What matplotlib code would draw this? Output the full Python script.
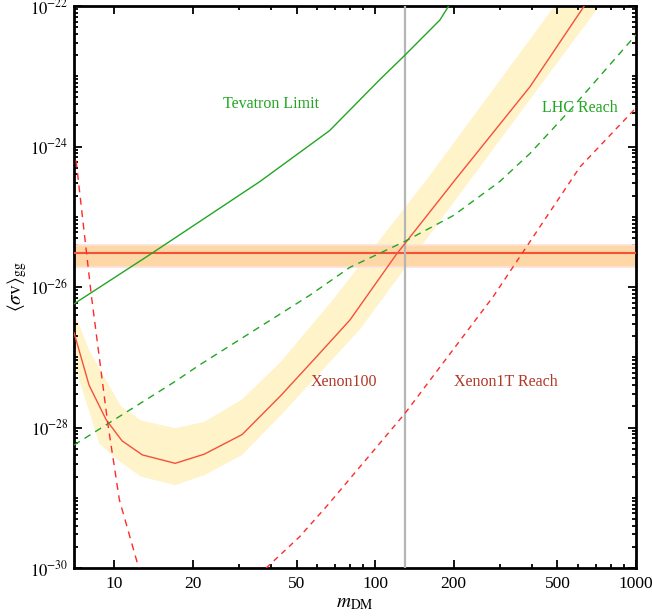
import numpy as np
import matplotlib
matplotlib.use("Agg")
import matplotlib.pyplot as plt
from matplotlib.ticker import FixedLocator, NullFormatter, FixedFormatter

# ---- values (mass in GeV, log10 <sigma v>) ----
# Xenon100 central line
xe100_m = [7, 8.0, 9.3, 10.7, 12.8, 17.1, 22.1, 30.9, 43.6, 60, 80, 120, 202, 392, 660]
xe100_ls = [-26.65, -27.40, -27.89, -28.19, -28.39, -28.51, -28.38, -28.10, -27.54,
            -26.98, -26.47, -25.545, -24.48, -23.15, -21.9]

# Xenon100 uncertainty band, upper and lower edges
band_hi_m = [7, 8.0, 10.6, 12.66, 17.1, 22.1, 30.9, 43.6, 68.9, 157, 510]
band_hi_ls = [-26.35, -26.90, -27.70, -27.90, -28.01, -27.92, -27.60, -27.06, -26.18, -24.48, -21.9]
band_lo_m = [7, 8.76, 10.6, 12.66, 17.1, 22.1, 30.9, 43.6, 87.1, 231, 758]
band_lo_ls = [-27.09, -28.23, -28.50, -28.70, -28.82, -28.68, -28.39, -27.82, -26.61, -24.48, -21.9]

# Tevatron limit
tev_m = [7, 13.6, 36.1, 66.8, 104, 130, 177, 195]
tev_ls = [-26.24, -25.545, -24.50, -23.775, -23.05, -22.70, -22.20, -21.95]

# LHC reach
lhc_m = [7, 17, 21.2, 56, 80, 130, 200, 300, 392, 566, 1000]
lhc_ls = [-28.25, -27.35, -27.11, -26.12, -25.72, -25.35, -24.98, -24.50, -24.10, -23.46, -22.41]

# Xenon1T reach, low-mass and high-mass branches
x1t_lo_m = [7.13, 8.14, 9.43, 10.45, 12.4]
x1t_lo_ls = [-24.20, -26.09, -27.94, -29.03, -30.0]
x1t_hi_m = [38.2, 51.3, 65.9, 130, 283, 610, 1000]
x1t_hi_ls = [-30.0, -29.555, -29.10, -27.80, -26.14, -24.29, -23.45]

# thermal relic band
relic_val = 3e-26
relic_lo, relic_hi = 1.9e-26, 3.9e-26
higgs_mass = 130

plt.rcParams["font.family"] = ["Liberation Serif", "DejaVu Serif"]
plt.rcParams["mathtext.fontset"] = "stix"

fig = plt.figure(figsize=(6.52, 6.16), dpi=100)
ax = fig.add_axes([74 / 652, 48 / 616, 562 / 652, 562 / 616])

def pw(v):
    return 10 ** np.array(v)

green = "#22A622"
red = "#FF2A2A"
brown = "#B03828"

# bands
ax.fill(np.concatenate([band_hi_m, band_lo_m[::-1]]),
        np.concatenate([pw(band_hi_ls), pw(band_lo_ls)[::-1]]),
        color="#FFF3CA", lw=0, zorder=1)
ax.axhspan(relic_lo, relic_hi, color="#FDD7A6", ec="#FCE0DC", lw=1.2, zorder=2)
ax.axhline(relic_val, color="#F5503A", lw=1.5, zorder=3)
ax.axvline(higgs_mass, color="#B5B5B5", lw=1.6, zorder=3)

# curves
ax.plot(xe100_m, pw(xe100_ls), color="#F5503A", lw=1.0, zorder=4)
ax.plot(tev_m, pw(tev_ls), color=green, lw=1.0, zorder=4)
ax.plot(lhc_m, pw(lhc_ls), color=green, lw=1.0, ls=(0, (5, 4)), zorder=4)
ax.plot(x1t_lo_m, pw(x1t_lo_ls), color=red, lw=1.0, ls=(0, (5, 4)), zorder=4)
ax.plot(x1t_hi_m, pw(x1t_hi_ls), color=red, lw=1.0, ls=(0, (4, 3.5)), zorder=4)

ax.set_xscale("log")
ax.set_yscale("log")
ax.set_xlim(7, 1000)
ax.set_ylim(1e-30, 1e-22)

# labels on the plot
ax.text(40, 4.0e-24, "Tevatron Limit", color=green, fontsize=11.5, ha="center", va="center")
ax.text(607, 3.5e-24, "LHC Reach", color=green, fontsize=11.5, ha="center", va="center")
ax.text(76, 4.5e-28, "Xenon100", color=brown, fontsize=11.5, ha="center", va="center")
ax.text(317, 4.5e-28, "Xenon1T Reach", color=brown, fontsize=11.5, ha="center", va="center")

# ticks
xmaj = [10, 20, 50, 100, 200, 500, 1000]
xmin = [30, 40, 60, 70, 80, 90, 300, 400, 600, 700, 800, 900]
ax.xaxis.set_major_locator(FixedLocator(xmaj))
ax.xaxis.set_major_formatter(FixedFormatter([str(v) for v in xmaj]))
ax.xaxis.set_minor_locator(FixedLocator(xmin))
ax.xaxis.set_minor_formatter(NullFormatter())

ymaj = [1e-30, 1e-28, 1e-26, 1e-24, 1e-22]
ymin = [k * 10.0 ** e for e in range(-30, -22) for k in range(1, 10) if not (k == 1 and e % 2 == 0)]
ax.yaxis.set_major_locator(FixedLocator(ymaj))
ax.yaxis.set_major_formatter(FixedFormatter([r"$10^{%d}$" % e for e in (-30, -28, -26, -24, -22)]))
ax.yaxis.set_minor_locator(FixedLocator(ymin))
ax.yaxis.set_minor_formatter(NullFormatter())

ax.tick_params(which="both", direction="in", top=True, right=True, width=1.3)
ax.tick_params(which="major", length=6)
ax.tick_params(which="minor", length=3)
ax.tick_params(axis="x", labelsize=12.5, pad=6)
ax.tick_params(axis="y", labelsize=12, pad=4)
for s in ax.spines.values():
    s.set_linewidth(2)

ax.set_xlabel(r"$m_{\rm DM}$", fontsize=14, labelpad=2)
ax.set_ylabel(r"$\langle\sigma {\rm v}\rangle_{\rm gg}$", fontsize=14)
ax.yaxis.set_label_coords(-0.08, 0.5)

fig.savefig("out.png", dpi=100)
